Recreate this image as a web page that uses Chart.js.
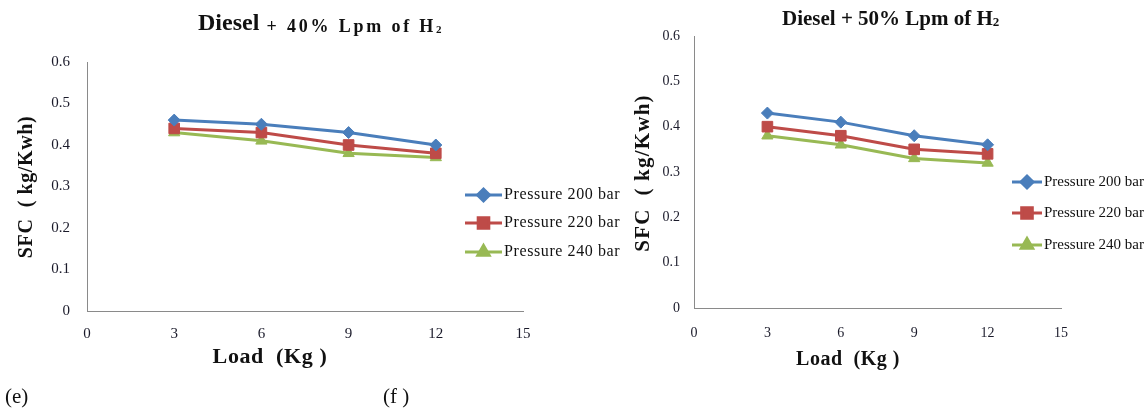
<!DOCTYPE html>
<html>
<head>
<meta charset="utf-8">
<script src="https://cdn.jsdelivr.net/npm/chart.js@4.4.1/dist/chart.umd.min.js"></script>
<style>
  html, body { margin: 0; padding: 0; background: #fff; }
  body { width: 1145px; height: 411px; position: relative; overflow: hidden; }
  .panel { position: absolute; top: 0; height: 411px; }
  #panelE { left: 0; width: 630px; }
  #panelF { left: 630px; width: 515px; }
</style>
</head>
<body>
<div class="panel" id="panelE"><canvas id="chartE"></canvas></div>
<div class="panel" id="panelF"><canvas id="chartF"></canvas></div>
<script>
// Load (Kg) on the x axis, SFC (kg/Kwh) on the y axis
const LOADS = [3, 6, 9, 12];
const SERIES_NAMES = ['Pressure 200 bar', 'Pressure 220 bar', 'Pressure 240 bar'];

// (e) Diesel + 40% Lpm of H2
const SFC_40_200 = [0.46, 0.45, 0.43, 0.40];
const SFC_40_220 = [0.44, 0.43, 0.40, 0.38];
const SFC_40_240 = [0.43, 0.41, 0.38, 0.37];

// (f) Diesel + 50% Lpm of H2
const SFC_50_200 = [0.43, 0.41, 0.38, 0.36];
const SFC_50_220 = [0.40, 0.38, 0.35, 0.34];
const SFC_50_240 = [0.38, 0.36, 0.33, 0.32];

const X_MIN = 0, X_MAX = 15, X_STEP = 3;
const Y_MIN = 0, Y_MAX = 0.6, Y_STEP = 0.1;

const SERIES_STYLE = [
    { color: '#4a7ebb', pointStyle: 'rectRot', radius: 6 },
    { color: '#be4b48', pointStyle: 'rect', radius: 7.5 },
    { color: '#98b954', pointStyle: 'triangle', radius: 6.5 },
];

const SERIF = '"Liberation Serif", "Times New Roman", serif';
const TEXT_COLOR = '#111';
const AXIS_COLOR = '#8a8a8a';

// titles, axis titles and legend are drawn here so they can sit exactly where the original has them
const decorPlugin = {
    id: 'decor',
    afterDraw(chart, args, o) {
        const ctx = chart.ctx;
        ctx.save();
        ctx.fillStyle = TEXT_COLOR;
        ctx.textAlign = 'left';
        ctx.textBaseline = 'alphabetic';

        let x = o.title.x;
        o.title.parts.forEach((p) => {
            ctx.font = p.font;
            ctx.letterSpacing = p.spacing || '0px';
            ctx.fillText(p.text, x, p.y);
            x += ctx.measureText(p.text).width;
        });

        // y axis title
        ctx.save();
        ctx.translate(o.yTitle.x, o.yTitle.y);
        ctx.rotate(-Math.PI / 2);
        ctx.font = o.yTitle.font;
        ctx.letterSpacing = o.yTitle.spacing;
        ctx.textAlign = 'center';
        ctx.textBaseline = 'middle';
        ctx.fillText(o.yTitle.text, 0, 0);
        ctx.restore();

        // x axis title
        ctx.font = o.xTitle.font;
        ctx.letterSpacing = o.xTitle.spacing;
        ctx.textAlign = 'center';
        ctx.textBaseline = 'middle';
        ctx.fillText(o.xTitle.text, o.xTitle.x, o.xTitle.y);

        // legend
        const lg = o.legend;
        chart.data.datasets.forEach((ds, i) => {
            const y = lg.rows[i];
            ctx.strokeStyle = ds.borderColor;
            ctx.lineWidth = 3;
            ctx.beginPath();
            ctx.moveTo(lg.x, y);
            ctx.lineTo(lg.x + lg.lineLen, y);
            ctx.stroke();
            ctx.fillStyle = ds.backgroundColor;
            Chart.helpers.drawPoint(ctx, {
                pointStyle: ds.pointStyle, radius: ds.pointRadius, rotation: 0, borderWidth: 1,
            }, lg.x + lg.lineLen / 2, y);
            ctx.fillStyle = TEXT_COLOR;
            ctx.font = lg.font;
            ctx.letterSpacing = lg.spacing;
            ctx.textAlign = 'left';
            ctx.textBaseline = 'middle';
            ctx.fillText(ds.label, lg.x + lg.lineLen + 2, y);
        });

        if (o.tag) {
            ctx.font = o.tag.font;
            ctx.letterSpacing = '0px';
            ctx.textAlign = 'left';
            ctx.textBaseline = 'alphabetic';
            o.tag.items.forEach((t) => ctx.fillText(t.text, t.x, t.y));
        }
        ctx.letterSpacing = '0px';
        ctx.restore();
    },
};

function buildDatasets(values) {
    return values.map((arr, i) => ({
        label: SERIES_NAMES[i],
        data: LOADS.map((l, k) => ({ x: l, y: arr[k] })),
        borderColor: SERIES_STYLE[i].color,
        backgroundColor: SERIES_STYLE[i].color,
        pointBackgroundColor: SERIES_STYLE[i].color,
        pointBorderColor: SERIES_STYLE[i].color,
        pointStyle: SERIES_STYLE[i].pointStyle,
        pointRadius: SERIES_STYLE[i].radius,
        pointBorderWidth: 1,
        borderWidth: 3,
        tension: 0,
    }));
}

function buildChart(canvasId, values, g) {
    return new Chart(document.getElementById(canvasId), {
        type: 'line',
        data: { datasets: buildDatasets(values) },
        options: {
            responsive: true,
            maintainAspectRatio: false,
            animation: false,
            layout: { padding: { left: 0, right: g.padRight, top: g.padTop, bottom: 0 } },
            scales: {
                x: {
                    type: 'linear',
                    min: X_MIN,
                    max: X_MAX,
                    grid: { display: false, drawTicks: false },
                    border: { color: AXIS_COLOR, width: 1 },
                    ticks: {
                        stepSize: X_STEP,
                        color: '#1a1a2a',
                        padding: g.xTickPad,
                        font: { family: SERIF, size: g.tickSize },
                    },
                    afterFit: (s) => { s.height = g.xHeight; },
                },
                y: {
                    min: Y_MIN,
                    max: Y_MAX,
                    grid: { display: false, drawTicks: false },
                    border: { color: AXIS_COLOR, width: 1 },
                    ticks: {
                        stepSize: Y_STEP,
                        color: '#1a1a2a',
                        padding: g.yTickPad,
                        font: { family: SERIF, size: g.tickSize },
                        callback: (v) => String(Number(v.toFixed(1))),
                    },
                    afterFit: (s) => { s.width = g.yWidth; },
                },
            },
            plugins: {
                legend: { display: false },
                tooltip: { enabled: false },
                decor: g.decor,
            },
        },
        plugins: [decorPlugin],
    });
}

buildChart('chartE', [SFC_40_200, SFC_40_220, SFC_40_240], {
    padRight: 107, padTop: 62, xHeight: 100, yWidth: 87,
    xTickPad: 14, yTickPad: 17, tickSize: 15,
    decor: {
        title: {
            x: 198,
            parts: [
                { text: 'Diesel', font: `bold 24px ${SERIF}`, y: 30 },
                { text: ' + 40% Lpm of H', font: `bold 18px ${SERIF}`, spacing: '2.8px', y: 32 },
                { text: '2', font: `bold 11px ${SERIF}`, y: 33 },
            ],
        },
        yTitle: { text: 'SFC  ( kg/Kwh)', x: 27, y: 187, font: `bold 20px ${SERIF}`, spacing: '0.6px' },
        xTitle: { text: 'Load  (Kg )', x: 270, y: 357, font: `bold 22px ${SERIF}`, spacing: '0.6px' },
        legend: { x: 465, lineLen: 37, rows: [195, 223, 252], font: `16px ${SERIF}`, spacing: '0.6px' },
        tag: {
            font: `21px ${SERIF}`,
            items: [{ text: '(e)', x: 5, y: 403 }, { text: '(f )', x: 383, y: 403 }],
        },
    },
});

buildChart('chartF', [SFC_50_200, SFC_50_220, SFC_50_240], {
    padRight: 84, padTop: 36, xHeight: 103, yWidth: 64,
    xTickPad: 17, yTickPad: 14, tickSize: 14,
    decor: {
        title: {
            x: 152,
            parts: [
                { text: 'Diesel + 50% Lpm of H', font: `bold 21px ${SERIF}`, y: 25 },
                { text: '2', font: `bold 13px ${SERIF}`, y: 26 },
            ],
        },
        yTitle: { text: 'SFC  ( kg/Kwh)', x: 14, y: 173, font: `bold 21px ${SERIF}`, spacing: '1.2px' },
        xTitle: { text: 'Load  (Kg )', x: 218, y: 360, font: `bold 20px ${SERIF}`, spacing: '0.5px' },
        legend: { x: 382, lineLen: 30, rows: [182, 213, 245], font: `15px ${SERIF}`, spacing: '0px' },
    },
});
</script>
</body>
</html>
